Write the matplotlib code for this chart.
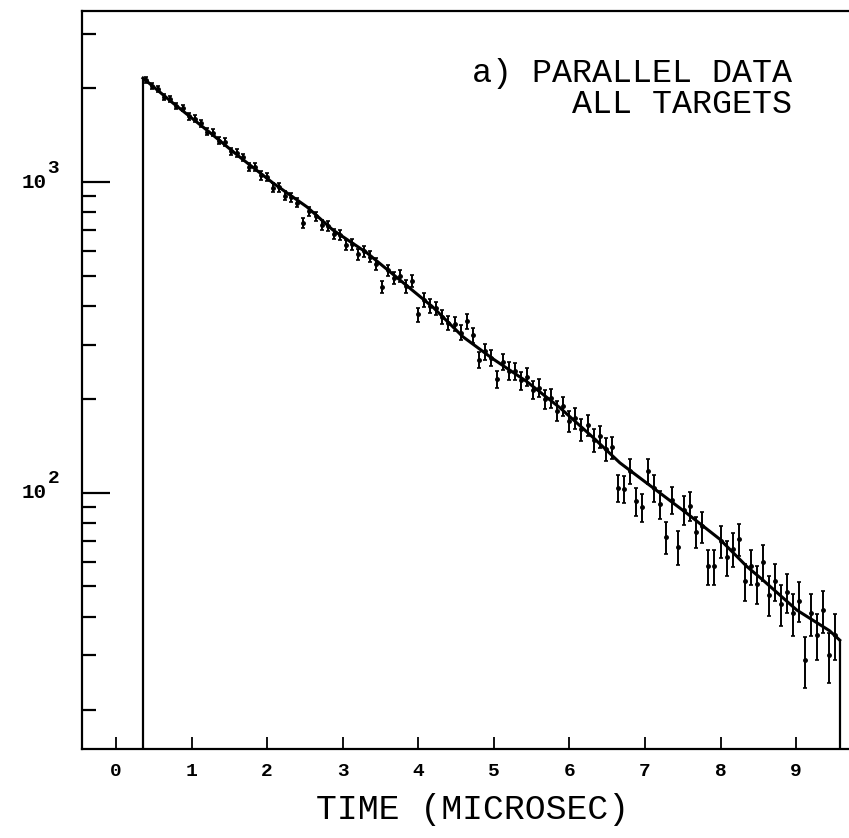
import numpy as np
import matplotlib
matplotlib.use("Agg")
import matplotlib.pyplot as plt
from matplotlib.ticker import FixedLocator, NullFormatter

plt.rcParams['font.family'] = ['Liberation Mono', 'DejaVu Sans Mono']

# fitted curve (time in microsec, counts)
fit_t = [0.357, 0.754, 1.204, 1.640, 2.077, 2.526, 2.870, 3.320, 3.757, 4.193,
         4.590, 4.987, 5.437, 5.873, 6.310, 6.667, 7.103, 7.553, 7.989, 8.347,
         8.558, 9.008, 9.444, 9.577]
fit_n = [2160, 1795, 1468, 1202, 993, 832, 701, 592, 484, 396,
         318, 270, 228, 188, 151, 125, 104, 86, 71, 58,
         52.5, 42, 36, 33.6]

# measured counts per bin
t_start, t_step = 0.40, 0.08
counts = [2135, 2030, 1990, 1880, 1850, 1755, 1730, 1625, 1600, 1545,
          1450, 1440, 1360, 1345, 1255, 1240, 1200, 1120, 1115, 1050,
          1040, 960, 962, 905, 895, 858, 740, 805, 775, 730,
          722, 680, 675, 628, 630, 585, 600, 575, 545, 460,
          520, 492, 500, 462, 480, 375, 418, 400, 392, 368,
          352, 350, 328, 356, 322, 268, 285, 272, 232, 264,
          247, 246, 230, 236, 215, 218, 200, 202, 184, 190,
          170, 174, 160, 165, 148, 152, 138, 140, 104, 103,
          118, 94, 90, 118, 104, 92, 72, 95, 67, 88,
          91, 75, 78, 58, 58, 70, 62, 66, 71, 52,
          58, 51, 60, 47, 52, 44, 48, 41, 45, 29,
          41, 35, 42, 30, 35]
counts = np.array(counts, dtype=float)
t_bins = t_start + t_step * np.arange(len(counts))
errs = np.sqrt(counts)

x_ticks = [0, 1, 2, 3, 4, 5, 6, 7, 8, 9]
y_major = [100, 1000]
y_minor = [20, 30, 40, 50, 60, 70, 80, 90,
           200, 300, 400, 500, 600, 700, 800, 900, 2000, 3000]

W, H = 849, 838
fig = plt.figure(figsize=(W / 100, H / 100), dpi=100)
ax = fig.add_axes([82 / W, 1 - 749 / H, 1 - 82 / W, (749 - 11) / H])
ax.set_yscale('log')
ax.set_xlim(-0.45, 9.70)
ax.set_ylim(15.0, 3550)

ax.plot(fit_t, fit_n, color='black', lw=2.2, solid_joinstyle='round')
ax.vlines([fit_t[0]], 15.0, fit_n[0], color='black', lw=1.6)
ax.vlines([fit_t[-1]], 15.0, fit_n[-1], color='black', lw=1.6)
ax.errorbar(t_bins, counts, yerr=errs, fmt='o', ms=2.5, color='black',
            ecolor='black', elinewidth=1.4, capsize=1.2, capthick=1.2)

ax.spines['right'].set_visible(False)
for side in ['left', 'bottom', 'top']:
    ax.spines[side].set_linewidth(1.6)

ax.xaxis.set_major_locator(FixedLocator(x_ticks))
ax.yaxis.set_major_locator(FixedLocator(y_major))
ax.yaxis.set_minor_locator(FixedLocator(y_minor))
ax.yaxis.set_major_formatter(NullFormatter())
ax.yaxis.set_minor_formatter(NullFormatter())

ax.tick_params(axis='x', direction='in', length=9, width=1.3, pad=10,
               labelsize=14, top=False)
for lab in ax.get_xticklabels():
    lab.set_fontweight('bold')
ax.tick_params(axis='y', which='major', direction='in', length=20, width=1.6,
               right=False)
ax.tick_params(axis='y', which='minor', direction='in', length=10, width=1.6,
               right=False)

# y labels written as typewriter "10" with raised exponent
for v in y_major:
    ax.annotate('10', xy=(-0.046, v), xycoords=('axes fraction', 'data'),
                ha='right', va='center', fontsize=15, fontweight='bold')
    ax.annotate(str(int(round(np.log10(v)))), xy=(-0.045, v),
                xycoords=('axes fraction', 'data'), xytext=(0, 10),
                textcoords='offset points', ha='left', va='center',
                fontsize=14, fontweight='bold')

ax.set_xlabel('TIME (MICROSEC)', fontsize=25)
ax.xaxis.set_label_coords((473 - 82) / 767, -0.060)

ax.text((792 - 82) / 767, 1 - (89 - 11) / 738, 'a) PARALLEL DATA\nALL TARGETS',
        transform=ax.transAxes, ha='right', va='center', multialignment='right',
        fontsize=24, linespacing=1.0)

fig.savefig('out.png', dpi=100)
